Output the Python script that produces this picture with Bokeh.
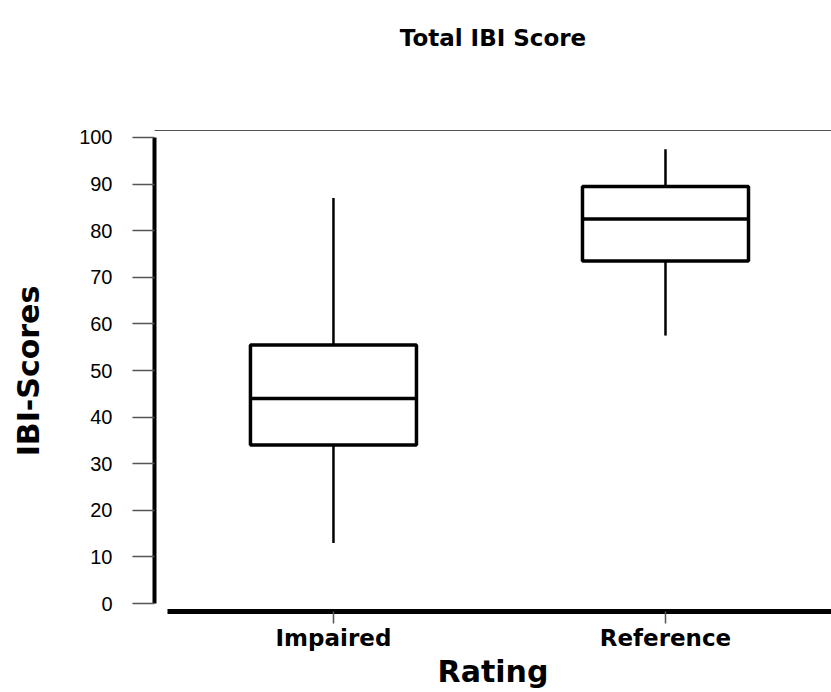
from bokeh.plotting import figure
from bokeh.models import Range1d, LinearAxis, FixedTicker
from bokeh.embed import file_html
from bokeh.resources import INLINE

# ---- data ----
categories = ["Impaired", "Reference"]
whisker_low = [13, 57.5]
quartile1 = [34, 73.5]
medians = [44, 82.5]
quartile3 = [55.5, 89.5]
whisker_high = [87, 97.5]
y_tick_values = [0, 10, 20, 30, 40, 50, 60, 70, 80, 90, 100]

title_text = "Total IBI Score"
x_title = "Rating"
y_title = "IBI-Scores"

# category positions on a numeric axis
xpos = [i + 1 for i in range(len(categories))]

W, H = 831, 692
p = figure(width=W, height=H, output_backend="svg", toolbar_location=None,
           title_location=None,
           x_range=Range1d(0.461, 2.5), y_range=Range1d(-1.7, 101.5),
           x_axis_type=None, y_axis_type=None,
           min_border_left=154, min_border_right=0,
           min_border_top=130, min_border_bottom=81)
p.outline_line_color = None
p.background_fill_color = "white"
p.border_fill_color = "white"

# top frame line, carrying the chart title
top = LinearAxis(ticker=FixedTicker(ticks=[]), axis_line_color="#555555", axis_line_width=1,
                 major_tick_out=0, major_tick_in=0, minor_tick_out=0, minor_tick_in=0,
                 major_label_text_font_size="0px",
                 axis_label=title_text, axis_label_text_font="DejaVu Sans",
                 axis_label_text_font_style="bold", axis_label_text_font_size="23px",
                 axis_label_text_color="black", axis_label_standoff=80)
p.add_layout(top, "above")

# y axis
yaxis = LinearAxis(ticker=FixedTicker(ticks=y_tick_values), bounds=(0, 100),
                   axis_line_color="black", axis_line_width=4,
                   major_tick_out=22, major_tick_in=0, minor_tick_out=0, minor_tick_in=0,
                   major_tick_line_color="#555555", major_tick_line_width=1.5,
                   major_label_standoff=20,
                   major_label_text_font="Liberation Sans", major_label_text_font_size="20px",
                   major_label_text_color="black",
                   axis_label=y_title, axis_label_text_font="DejaVu Sans",
                   axis_label_text_font_style="bold", axis_label_text_font_size="30px",
                   axis_label_text_color="black", axis_label_standoff=30)
p.add_layout(yaxis, "left")

# x axis
xaxis = LinearAxis(ticker=FixedTicker(ticks=xpos), bounds=(0.5, 2.5),
                   major_label_overrides={x: c for x, c in zip(xpos, categories)},
                   axis_line_color="black", axis_line_width=5,
                   major_tick_out=12, major_tick_in=0, minor_tick_out=0, minor_tick_in=0,
                   major_tick_line_color="#555555", major_tick_line_width=1.5,
                   major_label_standoff=1,
                   major_label_text_font="DejaVu Sans", major_label_text_font_style="bold",
                   major_label_text_font_size="23px", major_label_text_color="black",
                   axis_label=x_title, axis_label_text_font="DejaVu Sans",
                   axis_label_text_font_style="bold", axis_label_text_font_size="30px",
                   axis_label_text_color="black", axis_label_standoff=0)
p.add_layout(xaxis, "below")

# whiskers
p.segment(x0=xpos, y0=quartile3, x1=xpos, y1=whisker_high, line_color="black", line_width=2.5)
p.segment(x0=xpos, y0=quartile1, x1=xpos, y1=whisker_low, line_color="black", line_width=2.5)
# boxes
p.vbar(x=xpos, width=0.5, bottom=quartile1, top=quartile3,
       fill_color="white", line_color="black", line_width=3.5)
# medians
p.hbar(y=medians, left=[x - 0.25 for x in xpos], right=[x + 0.25 for x in xpos],
       height=0, line_color="black", line_width=3.5)

open("out.html", "w").write(file_html(p, INLINE))
